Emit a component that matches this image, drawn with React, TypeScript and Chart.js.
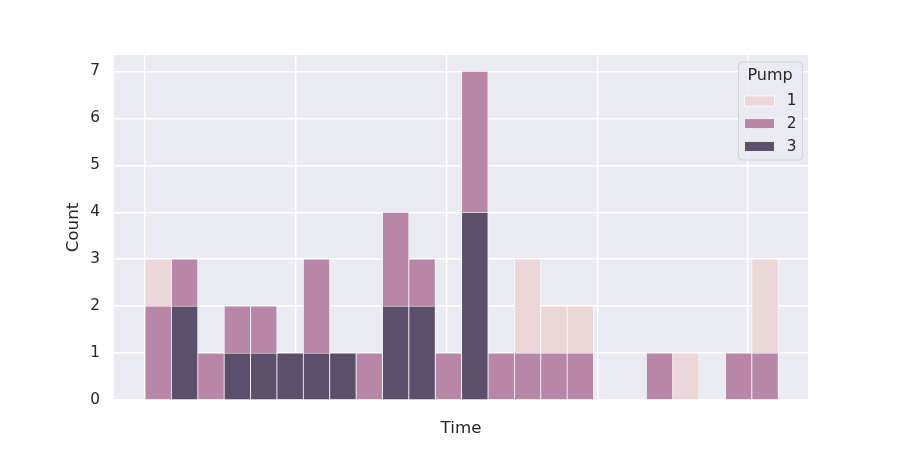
import React, { useEffect, useRef } from 'react'
import Chart from 'chart.js/auto'

// histogram of events per time bin, one series per pump (layered, not stacked)
const binStart = 0 // hours
const binWidth = 0.175
const pumps = ['1', '2', '3']
const pump1Counts = [3, 0, 0, 0, 0, 0, 0, 0, 0, 0, 0, 0, 0, 0, 3, 2, 2, 0, 0, 0, 1, 0, 0, 3]
const pump2Counts = [2, 3, 1, 2, 2, 0, 3, 0, 1, 4, 3, 1, 7, 1, 1, 1, 1, 0, 0, 1, 0, 0, 1, 1]
const pump3Counts = [0, 2, 0, 1, 1, 1, 1, 1, 0, 2, 2, 0, 4, 0, 0, 0, 0, 0, 0, 0, 0, 0, 0, 0]
const xGridHours = [0, 1, 2, 3, 4]
const yTicks = [0, 1, 2, 3, 4, 5, 6, 7]
const colors = ['#ebd6d8', '#b886a6', '#5b4f6b']

const FONT = "'DejaVu Sans', sans-serif"
const INK = '#262626'

const toPoints = (counts: number[]) =>
  counts.map((c, i) => ({ x: binStart + (i + 0.5) * binWidth, y: c === 0 ? null : c }))

const plotBg = {
  id: 'plotBg',
  beforeDraw(chart: any) {
    const { ctx, chartArea: a } = chart
    ctx.save()
    ctx.fillStyle = '#eaeaf2'
    ctx.fillRect(a.left, a.top, a.right - a.left, a.bottom - a.top)
    ctx.restore()
  },
}

const boxLegend = {
  id: 'boxLegend',
  afterDraw(chart: any) {
    const { ctx } = chart
    const x = 738.5
    const y = 62
    ctx.save()
    ctx.beginPath()
    ctx.roundRect(x, y, 64, 98, 4)
    ctx.fillStyle = 'rgba(234,234,242,0.8)'
    ctx.fill()
    ctx.strokeStyle = '#d2d2d8'
    ctx.lineWidth = 1
    ctx.stroke()
    ctx.fillStyle = INK
    ctx.textAlign = 'center'
    ctx.textBaseline = 'middle'
    ctx.font = `16px ${FONT}`
    ctx.fillText('Pump', 770, 75.5)
    ctx.font = `15.3px ${FONT}`
    pumps.forEach((p, i) => {
      const py = 96 + i * 22.7
      ctx.fillStyle = colors[i]
      ctx.fillRect(744.5, py, 30, 10)
      ctx.strokeStyle = '#ffffff'
      ctx.lineWidth = 0.75
      ctx.strokeRect(744.5, py, 30, 10)
      ctx.fillStyle = INK
      ctx.fillText(p, 791.5, py + 5.5)
    })
    ctx.restore()
  },
}

const App = () => {
  const chartRef = useRef<HTMLCanvasElement | null>(null)

  useEffect(() => {
    document.body.style.margin = '0'
    if (!chartRef.current) return
    const series = [pump1Counts, pump2Counts, pump3Counts]
    const chart = new Chart(chartRef.current, {
      type: 'bar',
      data: {
        datasets: series.map((counts, i) => ({
          label: pumps[i],
          data: toPoints(counts) as any,
          backgroundColor: colors[i],
          borderColor: '#ffffff',
          borderWidth: 0.75,
          order: 3 - i,
          grouped: false,
          barPercentage: 1,
          categoryPercentage: 1,
        })),
      },
      options: {
        responsive: false,
        animation: false,
        layout: { padding: { left: 0, right: 92, top: 55, bottom: 0 } },
        plugins: {
          legend: { display: false },
          tooltip: { enabled: false },
        },
        scales: {
          x: {
            type: 'linear',
            offset: false,
            min: binStart - 0.049 * 24 * binWidth,
            max: binStart + 1.047 * 24 * binWidth,
            afterFit: (s: any) => {
              s.height = 50
            },
            afterBuildTicks: (s: any) => {
              s.ticks = xGridHours.map((v) => ({ value: v }))
            },
            ticks: { callback: () => '', display: true },
            grid: { color: '#ffffff', lineWidth: 1.4, drawTicks: false, offset: false },
            border: { display: false },
            title: {
              display: true,
              text: 'Time',
              color: INK,
              font: { family: FONT, size: 16.7 },
              padding: { top: 0, bottom: 11.5 },
            },
          },
          y: {
            min: 0,
            max: 7.35,
            afterFit: (s: any) => {
              s.width = 114
            },
            afterBuildTicks: (s: any) => {
              s.ticks = yTicks.map((v) => ({ value: v }))
            },
            ticks: { color: INK, font: { family: FONT, size: 15.3 }, padding: 14 },
            grid: { color: '#ffffff', lineWidth: 1.4, drawTicks: false },
            border: { display: false },
            title: {
              display: true,
              text: 'Count',
              color: INK,
              font: { family: FONT, size: 16.7 },
              padding: { top: 64, bottom: 0 },
            },
          },
        },
      },
      plugins: [plotBg, boxLegend],
    })

    return () => chart.destroy()
  }, [])

  return <canvas ref={chartRef} width={900} height={450} />
}

export default App
